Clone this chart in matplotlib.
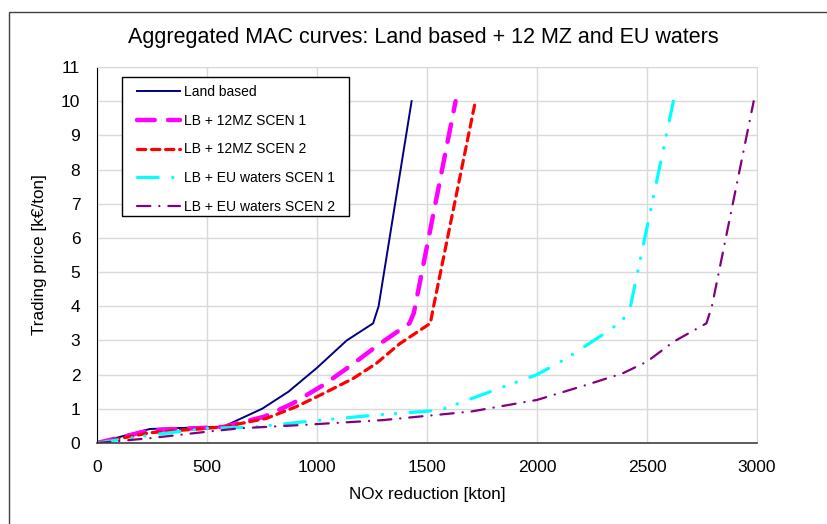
import matplotlib
matplotlib.use("Agg")
import matplotlib.pyplot as plt
from matplotlib.patches import Rectangle

plt.rcParams['font.family'] = ['Liberation Sans', 'DejaVu Sans']

# ─── Data ─────────────────────────────────────────────────
land_x = [0, 240, 575, 750, 870, 1000, 1135, 1255, 1280, 1430]
land_y = [0, 0.41, 0.48, 1.0, 1.5, 2.2, 3.0, 3.5, 4.0, 10]

mz1_x = [0, 240, 575, 760, 890, 1030, 1150, 1285, 1420, 1440, 1630]
mz1_y = [0, 0.37, 0.47, 0.77, 1.16, 1.7, 2.25, 2.9, 3.5, 3.8, 10]

mz2_x = [0, 240, 575, 770, 905, 1030, 1165, 1270, 1375, 1515, 1530, 1720]
mz2_y = [0, 0.3, 0.47, 0.72, 1.06, 1.45, 1.89, 2.33, 2.9, 3.5, 4.0, 10]

eu1_x = [0, 240, 500, 720, 940, 1270, 1480, 1560, 1850, 2000, 2135, 2330, 2390, 2425, 2620]
eu1_y = [0, 0.23, 0.43, 0.47, 0.62, 0.82, 0.92, 0.96, 1.65, 2.0, 2.48, 3.3, 3.6, 4.0, 10]

eu2_x = [0, 240, 500, 650, 940, 1300, 1700, 2000, 2225, 2390, 2500, 2620, 2770, 2795, 2985]
eu2_y = [0, 0.14, 0.33, 0.43, 0.53, 0.67, 0.92, 1.26, 1.7, 2.04, 2.38, 2.96, 3.5, 4.0, 10]

labels = ['Land based', 'LB + 12MZ SCEN 1', 'LB + 12MZ SCEN 2',
          'LB + EU waters SCEN 1', 'LB + EU waters SCEN 2']

# ─── Figure ───────────────────────────────────────────────
W, H = 827, 524
fig = plt.figure(figsize=(W/100, H/100), dpi=100)
fig.patches.append(Rectangle((9/W, -0.1), 1.2, 1.1 - 12/H, transform=fig.transFigure,
                             fill=False, edgecolor='#404040', lw=1.0))

ax = fig.add_axes([97/W, 1 - 443/H, 660/W, 376/H])

ax.plot(land_x, land_y, color='#000080', lw=1.4, label=labels[0])
ax.plot(mz1_x, mz1_y, color='#FF00FF', lw=3.2, linestyle=(0, (4, 3)),
        dash_capstyle='round', label=labels[1])
ax.plot(mz2_x, mz2_y, color='#FF0000', lw=2.3, linestyle=(0, (2.6, 1.8)),
        dash_capstyle='round', label=labels[2])
ax.plot(eu1_x, eu1_y, color='#00FFFF', lw=2.3,
        linestyle=(0, (6.5, 4.5, 0.1, 4, 0.1, 4.5)),
        dash_capstyle='round', label=labels[3])
ax.plot(eu2_x, eu2_y, color='#800080', lw=1.6, linestyle=(0, (6, 4, 0.1, 4)),
        dash_capstyle='round', label=labels[4])

ax.set_xlim(0, 3000)
ax.set_ylim(0, 11)
ax.set_xticks(range(0, 3001, 500))
ax.set_yticks(range(0, 12))
ax.grid(True, color='#d9d9d9', lw=1.0)
ax.set_axisbelow(True)
ax.tick_params(length=0, labelsize=12.5, colors='black')
ax.tick_params(axis='y', pad=12)
ax.tick_params(axis='x', pad=12)
for s in ['top', 'right']:
    ax.spines[s].set_color('#d9d9d9')
ax.spines['left'].set_color('black')
ax.spines['bottom'].set_color('#404040')
ax.spines['bottom'].set_linewidth(1.2)

# legend box drawn by hand, entries placed inside it
box = Rectangle((122/W, 1 - 216/H), 227/W, 139/H, transform=fig.transFigure,
                facecolor='white', edgecolor='black', lw=1.0, zorder=4)
ax.add_patch(box)
box.set_clip_on(False)
leg = ax.legend(loc='upper left', bbox_to_anchor=(137/W, 1 - 85/H),
                bbox_transform=fig.transFigure, borderaxespad=0, borderpad=0,
                fontsize=10, frameon=False, handlelength=3.1, handletextpad=0.3,
                labelspacing=1.06)
leg.set_zorder(5)

fig.text(423/W, 1 - 38/H, 'Aggregated MAC curves: Land based + 12 MZ and EU waters',
         ha='center', va='center', fontsize=15.5)
fig.text(427/W, 1 - 494/H, 'NOx reduction [kton]', ha='center', va='center', fontsize=12.3)
fig.text(40/W, 1 - 255/H, 'Trading price [k€/ton]', ha='center', va='center',
         rotation=90, fontsize=12.3)

fig.savefig('out.png', dpi=100)
